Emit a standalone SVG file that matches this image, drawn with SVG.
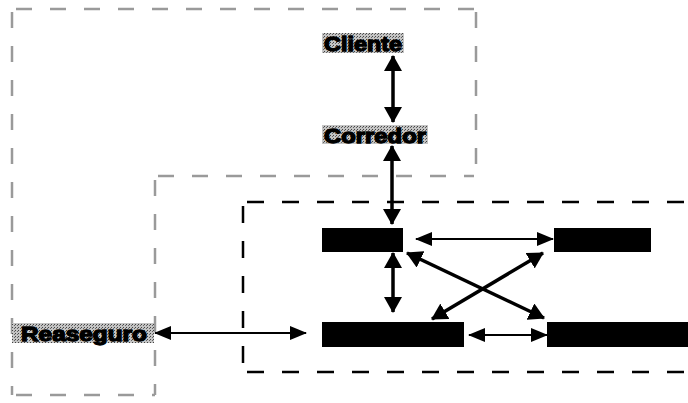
<svg xmlns="http://www.w3.org/2000/svg" width="688" height="403" viewBox="0 0 688 403">
<defs>
<pattern id="stip" width="3" height="3" patternUnits="userSpaceOnUse">
<rect width="3" height="3" fill="#c4c4c4"/>
<rect x="0" y="0" width="1" height="1" fill="#444"/>
<rect x="2" y="1" width="1" height="1" fill="#666"/>
</pattern>
<marker id="ah" viewBox="0 0 16 18" markerWidth="16" markerHeight="18" refX="15" refY="9" orient="auto-start-reverse" markerUnits="userSpaceOnUse">
<path d="M0,0 L16,9 L0,18 z" fill="#000"/>
</marker>
<marker id="ahs" viewBox="0 0 17 14" markerWidth="17" markerHeight="14" refX="16" refY="7" orient="auto-start-reverse" markerUnits="userSpaceOnUse">
<path d="M0,0 L17,7 L0,14 z" fill="#000"/>
</marker>
</defs>
<style>
.lbl{font-family:"Liberation Sans",Arial,sans-serif;font-weight:bold;font-size:20px;fill:#000;stroke:#000;stroke-width:1.3;text-anchor:middle}
.bg{fill:url(#stip)}
.blk{fill:#000}
.gray{fill:none;stroke:#9a9a9a;stroke-width:2.5;stroke-dasharray:16 18}
.bdash{fill:none;stroke:#000;stroke-width:2.5;stroke-dasharray:17 18}
.c{fill:none;stroke:#000;stroke-width:3.5}
.t{fill:none;stroke:#000;stroke-width:2.2}
</style>
<rect width="688" height="403" fill="#fff"/>
<g id="regions">
<path class="gray" d="M16,9 H474"/>
<path class="gray" d="M12,12 V395"/>
<path class="gray" d="M476,12 V172"/>
<path class="gray" d="M16,395 H155"/>
<path class="gray" d="M158,176 H474"/>
<path class="gray" d="M155,180 V395"/>
<path class="bdash" d="M247,202 H688"/>
<path class="bdash" d="M243,206 V372"/>
<path class="bdash" d="M247,372 H688"/>
</g>
<g id="connectors">
<line class="c" x1="393" y1="56" x2="393" y2="122" marker-start="url(#ah)" marker-end="url(#ah)"/>
<line class="c" x1="392" y1="146" x2="392" y2="224" marker-start="url(#ah)" marker-end="url(#ah)"/>
<line class="t" x1="416" y1="239" x2="553" y2="239" marker-start="url(#ahs)" marker-end="url(#ahs)"/>
<line class="c" x1="393" y1="253" x2="393" y2="312" marker-start="url(#ah)" marker-end="url(#ah)"/>
<line class="c" x1="407" y1="253" x2="544" y2="318" marker-start="url(#ah)" marker-end="url(#ah)"/>
<line class="c" x1="543" y1="253" x2="432" y2="319" marker-start="url(#ah)" marker-end="url(#ah)"/>
<line class="t" x1="469" y1="335" x2="547" y2="335" stroke-width="2.5" marker-start="url(#ahs)" marker-end="url(#ahs)"/>
<line class="t" x1="155" y1="333" x2="306" y2="333" stroke-width="2.5" marker-start="url(#ahs)" marker-end="url(#ahs)"/>
</g>
<g id="cliente">
<rect class="bg" x="322" y="33" width="82" height="20"/>
<text class="lbl" x="363" y="51" textLength="78" lengthAdjust="spacingAndGlyphs">Cliente</text>
</g>
<g id="corredor">
<rect class="bg" x="322" y="125" width="106" height="19"/>
<text class="lbl" x="375" y="143" textLength="102" lengthAdjust="spacingAndGlyphs">Corredor</text>
</g>
<g id="reaseguro">
<rect class="bg" x="12" y="323" width="142" height="20"/>
<text class="lbl" x="84" y="341" textLength="126" lengthAdjust="spacingAndGlyphs">Reaseguro</text>
</g>
<g id="boxA"><rect class="blk" x="322" y="228" width="81" height="24"/></g>
<g id="boxB"><rect class="blk" x="554" y="228" width="97" height="24"/></g>
<g id="boxC"><rect class="blk" x="322" y="322" width="142" height="25"/></g>
<g id="boxD"><rect class="blk" x="547" y="322" width="141" height="25"/></g>
</svg>
